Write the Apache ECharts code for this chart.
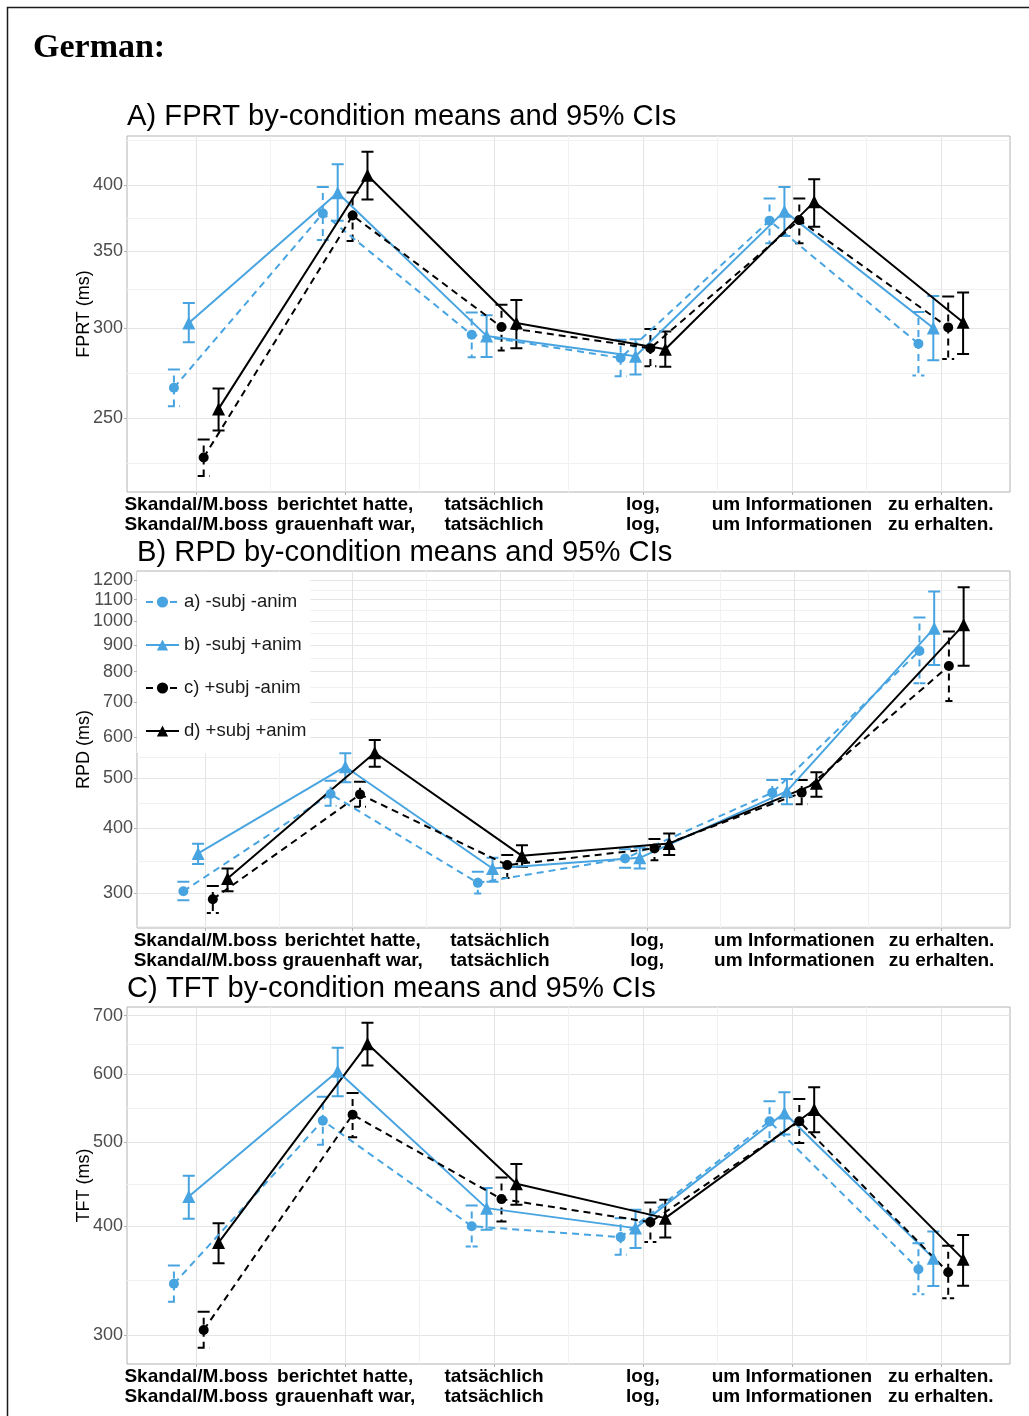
<!DOCTYPE html>
<html>
<head>
<meta charset="utf-8">
<script src="https://cdn.jsdelivr.net/npm/echarts@6/dist/echarts.min.js"></script>
<style>
html,body{margin:0;padding:0;background:#fff;}
#chart{width:1029px;height:1416px;}
</style>
</head>
<body>
<div id="chart"></div>
<script>
// ---------- data ----------
const labelTop = ['Skandal/M.boss', 'berichtet hatte,', 'tatsächlich', 'log,', 'um Informationen', 'zu erhalten.'];
const labelBottom = ['Skandal/M.boss', 'grauenhaft war,', 'tatsächlich', 'log,', 'um Informationen', 'zu erhalten.'];
const conditionNames = ['a) -subj -anim', 'b) -subj +anim', 'c) +subj -anim', 'd) +subj +anim'];

// FPRT (ms)
const fprtMean = [
  [265.9, 377.9, 295.9, 282.4, 372.4, 290.6],
  [303.0, 393.9, 295.2, 283.3, 379.6, 299.9],
  [231.0, 376.3, 300.5, 288.0, 372.8, 300.3],
  [254.8, 408.1, 303.0, 287.4, 386.8, 303.4]
];
const fprtLower = [
  [256.2, 358.1, 282.7, 272.1, 355.8, 272.5],
  [291.4, 372.4, 282.9, 273.1, 361.0, 281.0],
  [222.6, 357.4, 286.6, 277.7, 355.8, 281.8],
  [244.0, 388.6, 288.0, 277.4, 367.9, 284.6]
];
const fprtUpper = [
  [275.9, 398.6, 309.5, 292.9, 389.4, 309.7],
  [315.4, 417.3, 307.7, 293.2, 398.6, 320.0],
  [239.6, 394.1, 314.3, 299.4, 389.4, 319.6],
  [265.5, 427.8, 317.4, 297.9, 404.9, 322.2]
];
const fprtTicks = [250, 300, 350, 400];
const fprtRange = [215.5, 441.7];

// RPD (ms)
const rpdMean = [
  [303.0, 465.7, 314.4, 350.3, 468.4, 877.1],
  [358.1, 525.5, 335.1, 351.2, 471.9, 970.1],
  [292.5, 465.0, 340.1, 366.1, 468.4, 820.7],
  [320.6, 559.1, 354.3, 374.3, 488.3, 984.3]
];
const rpdLower = [
  [291.2, 442.2, 300.0, 336.0, 446.8, 760.3],
  [341.6, 490.4, 315.8, 335.1, 445.0, 824.5],
  [275.3, 440.2, 321.4, 347.6, 445.0, 703.0],
  [303.0, 525.5, 337.5, 355.5, 460.1, 821.8]
];
const rpdUpper = [
  [315.8, 493.9, 330.1, 365.0, 495.5, 1016.5],
  [373.6, 557.6, 351.2, 367.1, 497.9, 1140.6],
  [310.2, 491.7, 355.5, 381.6, 495.5, 955.7],
  [335.1, 591.5, 371.5, 391.3, 512.6, 1163.0]
];
const rpdTicks = [300, 400, 500, 600, 700, 800, 900, 1000, 1100, 1200];
const rpdRange = [257.5, 1249];

// TFT (ms)
const tftMean = [
  [343.6, 529.8, 400.3, 388.9, 528.8, 357.1],
  [433.2, 604.0, 420.0, 398.3, 540.7, 367.8],
  [303.9, 538.3, 430.2, 404.7, 528.8, 354.3],
  [383.3, 649.6, 448.1, 409.0, 545.6, 366.8]
];
const tftLower = [
  [327.7, 497.1, 379.3, 371.0, 501.5, 334.2],
  [408.3, 565.1, 396.5, 377.7, 510.5, 341.6],
  [289.9, 506.9, 405.4, 383.8, 499.3, 330.7],
  [362.9, 613.2, 423.8, 388.5, 513.6, 341.9]
];
const tftUpper = [
  [360.6, 564.3, 423.0, 409.0, 557.6, 382.7],
  [457.7, 642.8, 443.0, 418.2, 571.2, 394.7],
  [319.1, 570.3, 455.6, 426.4, 561.2, 380.0],
  [403.6, 687.1, 472.1, 429.4, 578.9, 391.2]
];
const tftTicks = [300, 400, 500, 600, 700];
const tftRange = [277.7, 716.3];

// ---------- styling / layout ----------
const BLUE = '#48a4e0';
const BLACK = '#000000';
const condColor = [BLUE, BLUE, BLACK, BLACK];
const condDashed = [true, false, true, false];
const condSymbol = ['circle', 'triangle', 'circle', 'triangle'];
const condSymbolSize = [10, 13, 10, 13];
const dodge = [-0.15, -0.05, 0.05, 0.15];
const DASH = [7, 5];
const L = v => Math.log10(v);

const panels = [
  {mean: fprtMean, lo: fprtLower, hi: fprtUpper, ticks: fprtTicks, range: fprtRange, name: 'FPRT (ms)',
   grid: {left: 127, top: 136, right: 19, height: 356}, nameGap: 34,
   title: 'A) FPRT by-condition means and 95% CIs', tx: 127, ty: 117},
  {mean: rpdMean, lo: rpdLower, hi: rpdUpper, ticks: rpdTicks, range: rpdRange, name: 'RPD (ms)',
   grid: {left: 137, top: 571, right: 19, height: 357}, nameGap: 44,
   title: 'B) RPD by-condition means and 95% CIs', tx: 137, ty: 553},
  {mean: tftMean, lo: tftLower, hi: tftUpper, ticks: tftTicks, range: tftRange, name: 'TFT (ms)',
   grid: {left: 127, top: 1007, right: 19, height: 357}, nameGap: 34,
   title: 'C) TFT by-condition means and 95% CIs', tx: 127, ty: 989}
];

function minorBreaks(majors, range) {
  const b = majors.map(L);
  const bd = b[1] - b[0];
  const lo = L(range[0]), hi = L(range[1]);
  if (lo < b[0]) b.unshift(b[0] - bd);
  if (hi > b[b.length - 1]) b.push(b[b.length - 1] + bd);
  const m = [];
  for (let i = 0; i < b.length - 1; i++) m.push((b[i] + b[i + 1]) / 2);
  return m.filter(v => v >= lo && v <= hi);
}

const catPos = [1, 2, 3, 4, 5, 6];
const catMinor = [1.5, 2.5, 3.5, 4.5, 5.5];
const X_MIN = 0.535, X_MAX = 6.465;
const FONT = '"Liberation Sans", Arial, Helvetica, sans-serif';

const grids = [], xAxes = [], yAxes = [], series = [];
panels.forEach((p, g) => {
  grids.push(Object.assign({show: true, borderColor: '#b3b3b3', borderWidth: 1, backgroundColor: 'transparent'}, p.grid));
  // major x axis
  xAxes.push({
    type: 'value', gridIndex: g, min: X_MIN, max: X_MAX, position: 'bottom',
    axisLine: {show: false},
    axisTick: {show: true, length: 3, lineStyle: {color: '#b3b3b3'}, customValues: catPos},
    axisLabel: {show: true, customValues: catPos, margin: 3,
      formatter: v => { const i = Math.round(v) - 1; return labelTop[i] + '\n' + labelBottom[i]; },
      fontFamily: FONT, fontWeight: 'bold', fontSize: 19, lineHeight: 20, color: '#000'},
    splitLine: {show: true, lineStyle: {color: '#e4e4e4', width: 1}}
  });
  // minor x axis
  xAxes.push({
    type: 'value', gridIndex: g, min: X_MIN, max: X_MAX, position: 'bottom',
    axisLine: {show: false}, axisLabel: {show: false},
    axisTick: {show: false, customValues: catMinor},
    splitLine: {show: true, lineStyle: {color: '#f1f1f1', width: 1}}
  });
  const lo = L(p.range[0]), hi = L(p.range[1]);
  const majorLog = p.ticks.map(L);
  yAxes.push({
    type: 'value', gridIndex: g, min: lo, max: hi, position: 'left',
    name: p.name, nameLocation: 'middle', nameRotate: 90, nameGap: p.nameGap,
    nameMoveOverlap: false,
    nameTextStyle: {fontFamily: FONT, fontSize: 18, color: '#000'},
    axisLine: {show: false},
    axisTick: {show: true, length: 3, lineStyle: {color: '#b3b3b3'}, customValues: majorLog},
    axisLabel: {show: true, customValues: majorLog, margin: 4,
      formatter: v => String(Math.round(Math.pow(10, v))),
      fontFamily: FONT, fontSize: 18, color: '#4d4d4d'},
    splitLine: {show: true, lineStyle: {color: '#e4e4e4', width: 1}}
  });
  yAxes.push({
    type: 'value', gridIndex: g, min: lo, max: hi, position: 'left',
    axisLine: {show: false}, axisLabel: {show: false},
    axisTick: {show: false, customValues: minorBreaks(p.ticks, p.range)},
    splitLine: {show: true, lineStyle: {color: '#f1f1f1', width: 1}}
  });

  for (let c = 0; c < 4; c++) {
    const col = condColor[c];
    const dashed = condDashed[c];
    // lines + points
    series.push({
      type: 'line', name: conditionNames[c], xAxisIndex: 2 * g, yAxisIndex: 2 * g,
      z: 3,
      data: catPos.map((x, i) => [x + dodge[c], L(p.mean[c][i])]),
      symbol: condSymbol[c], symbolSize: condSymbolSize[c], showSymbol: true,
      lineStyle: {color: col, width: 2, type: dashed ? DASH : 'solid'},
      itemStyle: {color: col, borderWidth: 0},
      emphasis: {disabled: true}
    });
    // error bars (95% CI)
    series.push({
      type: 'custom', name: conditionNames[c] + ' 95% CI', xAxisIndex: 2 * g, yAxisIndex: 2 * g,
      z: 2, silent: true,
      encode: {x: 0, y: [1, 2]},
      data: catPos.map((x, i) => [x + dodge[c], L(p.lo[c][i]), L(p.hi[c][i])]),
      renderItem: (params, api) => {
        const x = api.value(0);
        const a = api.coord([x, api.value(1)]);
        const b = api.coord([x, api.value(2)]);
        const w = 6;
        return {
          type: 'polyline',
          shape: {points: [[b[0] - w, b[1]], [b[0] + w, b[1]], [b[0], b[1]], [a[0], a[1]], [a[0] - w, a[1]], [a[0] + w, a[1]]]},
          style: {stroke: col, lineWidth: 2, fill: null, lineDash: dashed ? DASH : null}
        };
      }
    });
  }
});

const graphics = [
  {type: 'rect', shape: {x: 7.5, y: 7.5, width: 1040, height: 1440}, style: {fill: null, stroke: '#1a1a1a', lineWidth: 1.5}, silent: true},
  {type: 'text', x: 33, y: 48, style: {text: 'German:', font: 'bold 34px "Liberation Serif", "DejaVu Serif", serif', fill: '#000', verticalAlign: 'middle', align: 'left'}}
];
panels.forEach(p => {
  graphics.push({type: 'text', x: p.tx, y: p.ty, style: {text: p.title, font: '29.2px ' + FONT, fill: '#000', verticalAlign: 'middle', align: 'left'}});
});

const chart = echarts.init(document.getElementById('chart'), null, {renderer: 'canvas'});
chart.setOption({
  animation: false,
  backgroundColor: '#fff',
  grid: grids,
  xAxis: xAxes,
  yAxis: yAxes,
  series: series,
  graphic: graphics,
  legend: {
    show: true, orient: 'vertical', left: 137, top: 572,
    padding: [20, 4, 12, 8], itemGap: 23, itemWidth: 33, itemHeight: 14,
    backgroundColor: '#fff',
    data: conditionNames.map(n => ({name: n})),
    textStyle: {fontFamily: FONT, fontSize: 18.5, color: '#1a1a1a', lineHeight: 20},
    selectedMode: false
  }
});
</script>
</body>
</html>
